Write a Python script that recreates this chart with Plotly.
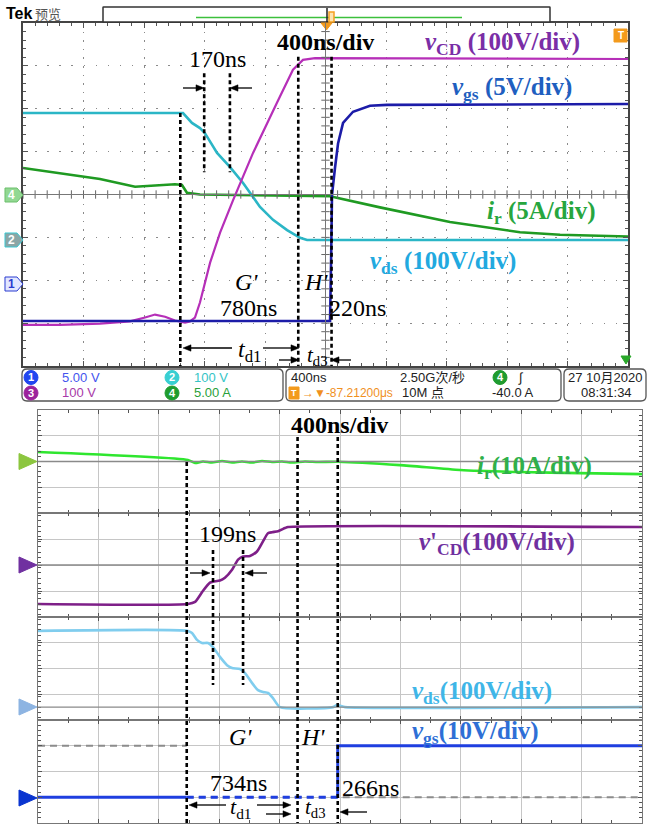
import plotly.graph_objects as go

W, H = 649, 825

# ---------------- oscilloscope capture (400 ns/div, time in ns) ----------------
# channel 3: v_CD, 100 V/div
scope_vcd_t = [0, 245, 509, 707, 807, 873, 939, 1005, 1071, 1104, 1137, 1170, 1237, 1303,
               1389, 1521, 1679, 1785, 1851, 1931, 4000]
scope_vcd_v = [-8, -8, -5, 0, 9, 16, 11, 2, -3, 0, 9, 44, 137, 207,
               283, 393, 510, 587, 610, 614, 612]
# channel 2: v_ds, 100 V/div
scope_vds_t = [0, 1058, 1117, 1170, 1203, 1283, 1369, 1455, 1521, 1567, 1653, 1746, 1832, 1878, 4000]
scope_vds_v = [296, 296, 273, 261, 249, 203, 170, 133, 100, 77, 47, 23, 5, 0, 0]
# channel 4: i_r, 5 A/div
scope_ir_t = [0, 245, 509, 741, 840, 1005, 1051, 1084, 1170, 2030, 2360, 2823, 3286, 3551, 4000]
scope_ir_a = [3.1, 2.5, 1.8, 0.9, 1.0, 1.2, 1.1, 0.2, 0.0, -0.2, -1.5, -3.2, -4.4, -4.7, -4.9]
# channel 1: v_gs, 5 V/div
scope_vgs_t = [0, 2030, 2037, 2043, 2063, 2083, 2116, 2182, 2294, 2407, 4000]
scope_vgs_v = [-4.3, -4.3, 2.8, 10.4, 13.6, 16.4, 18.8, 20.1, 20.8, 20.9, 21.0]

# volts (amps) per division and ground position in divisions from screen centre
scope_channels = {
    "vCD": dict(scale=100, ground=-2.96),
    "vds": dict(scale=100, ground=-1.06),
    "ir": dict(scale=5, ground=0.0),
    "vgs": dict(scale=5, ground=-2.09),
}

# measured intervals
scope_td1, scope_td3, scope_step = 780, 220, 170
scope_t_start = 1040
scope_step_start = 1198

# ---------------- simulation (400 ns/div) ----------------
sim_ir_t = [0, 993, 1040, 1093, 1152, 1219, 1285, 1351, 1417, 1484, 1550, 1616, 1682, 1768,
            1854, 1987, 2398, 2795, 3192, 3590, 4000]
sim_ir_a = [3.7, 0.6, -0.6, 0.0, -0.4, 0.2, -0.4, 0.0, -0.4, 0.2, -0.2, 0.0, -0.4, 0.0,
            -0.2, -0.1, -1.4, -3.3, -4.1, -4.5, -4.9]
sim_vcd_t = [0, 993, 1040, 1093, 1139, 1159, 1205, 1238, 1285, 1325, 1358, 1404, 1450, 1490,
             1523, 1550, 1590, 1636, 1656, 4000]
sim_vcd_v = [0, 0, 8, 51, 82, 86, 90, 101, 132, 171, 183, 185, 202, 241,
             272, 276, 280, 292, 296, 296]
sim_vds_t = [0, 993, 1020, 1053, 1086, 1126, 1159, 1205, 1252, 1285, 1338, 1371, 1417, 1457,
             1490, 1523, 1556, 1603, 1954, 1980, 2007, 2033, 4000]
sim_vds_v = [296, 296, 288, 261, 249, 249, 233, 195, 163, 152, 148, 132, 94, 66,
             59, 55, 35, 0, 0, 8, 4, 0, 0]
sim_vgs_low, sim_vgs_high = 0, 20
sim_td1, sim_td3, sim_step = 734, 266, 199
sim_t_start = 985
sim_step_start = 1159

SERIF = "Liberation Serif, Times New Roman, serif"
SANS = "Liberation Sans Narrow, Liberation Sans, Noto Sans CJK SC, sans-serif"


def px(x):
    return x / W


def py(y):
    return 1 - y / H


def to_div(values, ch):
    c = scope_channels[ch]
    return [v / c["scale"] + c["ground"] for v in values]


fig = go.Figure()

# ---------- scope traces ----------
fig.add_trace(go.Scatter(x=scope_ir_t, y=to_div(scope_ir_a, "ir"), mode="lines",
                         line=dict(color="#1f9a22", width=2.6), xaxis="x", yaxis="y"))
fig.add_trace(go.Scatter(x=scope_vds_t, y=to_div(scope_vds_v, "vds"), mode="lines",
                         line=dict(color="#2bb6c6", width=2.6), xaxis="x", yaxis="y"))
fig.add_trace(go.Scatter(x=scope_vcd_t, y=to_div(scope_vcd_v, "vCD"), mode="lines",
                         line=dict(color="#b62fb8", width=2.2), xaxis="x", yaxis="y"))
fig.add_trace(go.Scatter(x=scope_vgs_t, y=to_div(scope_vgs_v, "vgs"), mode="lines",
                         line=dict(color="#1c1ca8", width=2.6), xaxis="x", yaxis="y"))

# graticule centre-line ticks
tick_x = [i * 80 for i in range(51)]
tick_y = [-4 + i * 0.2 for i in range(41)]
fig.add_trace(go.Scatter(x=tick_x, y=[0] * len(tick_x), mode="markers",
                         marker=dict(symbol="line-ns", size=6, line=dict(color="#666", width=1)),
                         xaxis="x", yaxis="y", hoverinfo="skip"))
fig.add_trace(go.Scatter(x=[2000] * len(tick_y), y=tick_y, mode="markers",
                         marker=dict(symbol="line-ew", size=6, line=dict(color="#666", width=1)),
                         xaxis="x", yaxis="y", hoverinfo="skip"))

# ---------- simulation traces ----------
fig.add_trace(go.Scatter(x=sim_ir_t, y=sim_ir_a, mode="lines",
                         line=dict(color="#2fe62f", width=2.6, shape="spline", smoothing=0.6),
                         xaxis="x2", yaxis="y2"))
fig.add_trace(go.Scatter(x=sim_vcd_t, y=sim_vcd_v, mode="lines",
                         line=dict(color="#7e1f88", width=2.6, shape="spline", smoothing=0.6),
                         xaxis="x3", yaxis="y3"))
fig.add_trace(go.Scatter(x=sim_vds_t, y=sim_vds_v, mode="lines",
                         line=dict(color="#80cdee", width=2.6, shape="spline", smoothing=0.6),
                         xaxis="x4", yaxis="y4"))

t_end = sim_t_start + sim_td1 + sim_td3
# ideal gate references (grey dashed)
fig.add_trace(go.Scatter(x=[0, sim_t_start], y=[sim_vgs_high, sim_vgs_high], mode="lines",
                         line=dict(color="#8c8c8c", width=2, dash="7px,5px"), xaxis="x5", yaxis="y5"))
fig.add_trace(go.Scatter(x=[sim_t_start, 4000], y=[sim_vgs_low, sim_vgs_low], mode="lines",
                         line=dict(color="#8c8c8c", width=2, dash="7px,5px"), xaxis="x5", yaxis="y5"))
fig.add_trace(go.Scatter(x=[0, sim_t_start], y=[sim_vgs_low, sim_vgs_low], mode="lines",
                         line=dict(color="#1f3fe0", width=3), xaxis="x5", yaxis="y5"))
fig.add_trace(go.Scatter(x=[sim_t_start, t_end], y=[sim_vgs_low, sim_vgs_low], mode="lines",
                         line=dict(color="#1f3fe0", width=3, dash="7px,5px"), xaxis="x5", yaxis="y5"))
fig.add_trace(go.Scatter(x=[t_end, t_end, 4000], y=[sim_vgs_low, sim_vgs_high, sim_vgs_high],
                         mode="lines", line=dict(color="#1f3fe0", width=3), xaxis="x5", yaxis="y5"))

# ---------- axes ----------
scope_x = dict(domain=[px(23), px(628)], range=[0, 4000], tick0=0, dtick=400,
               showgrid=True, gridcolor="#8a8a8a", gridwidth=1, griddash="1.5px,7.1px",
               ticks="inside", ticklen=5, tickcolor="#555", showticklabels=False,
               showline=True, linecolor="#444", linewidth=1.5, mirror="allticks", zeroline=False,
               minor=dict(ticks="inside", ticklen=3, dtick=80, tickcolor="#555", showgrid=False),
               fixedrange=True)
scope_y = dict(domain=[py(366), py(23)], range=[-4, 4], tick0=0, dtick=1,
               showgrid=True, gridcolor="#8a8a8a", gridwidth=1, griddash="1.5px,10.6px",
               ticks="inside", ticklen=5, tickcolor="#555", showticklabels=False,
               showline=True, linecolor="#444", linewidth=1.5, mirror="allticks", zeroline=False,
               minor=dict(ticks="inside", ticklen=3, dtick=0.2, tickcolor="#555", showgrid=False),
               fixedrange=True)
layout_axes = {"xaxis": scope_x, "yaxis": scope_y}

panels = [  # (top px, bottom px, range, units per div)
    (410, 513, [-20, 20], 10),
    (513, 617, [-50, 350], 100),
    (617, 720, [-50, 350], 100),
    (720, 823, [-10, 30], 10),
]
for i, (top, bot, rng, per_div) in enumerate(panels, start=2):
    layout_axes[f"xaxis{i}"] = dict(
        domain=[px(38), px(642)], range=[0, 4000], tick0=0, dtick=400,
        showgrid=True, gridcolor="#c6c6c6", gridwidth=1.4,
        ticks="inside", ticklen=4, tickcolor="#555", showticklabels=False,
        showline=True, linecolor="#777", linewidth=1.1, mirror="allticks", zeroline=False,
        minor=dict(ticks="inside", ticklen=2.5, dtick=200, tickcolor="#555", showgrid=False),
        anchor=f"y{i}", fixedrange=True)
    layout_axes[f"yaxis{i}"] = dict(
        domain=[py(bot), py(top)], range=rng, tick0=rng[0], dtick=per_div,
        showgrid=True, gridcolor="#c6c6c6", gridwidth=1.4,
        ticks="inside", ticklen=4, tickcolor="#555", showticklabels=False,
        showline=True, linecolor="#777", linewidth=1.1, mirror="allticks", zeroline=False,
        minor=dict(ticks="inside", ticklen=2.5, dtick=per_div / 5, tickcolor="#555", showgrid=False),
        anchor=f"x{i}", fixedrange=True)

shapes = []
ann = []


def text(x, y, s, size=24, color="black", family=SERIF, anchor="center"):
    ann.append(dict(x=px(x), y=py(y), xref="paper", yref="paper", text=s, showarrow=False,
                    xanchor=anchor, yanchor="middle", font=dict(family=family, size=size, color=color)))


def poly(points, fill, line=None, width=1):
    d = "M " + " L ".join(f"{px(a):.5f},{py(b):.5f}" for a, b in points) + " Z"
    shapes.append(dict(type="path", xref="paper", yref="paper", path=d, fillcolor=fill,
                       line=dict(color=line or fill, width=width)))


def arrow(x_head, y, x_tail, head=8, half=3.2):
    sgn = 1 if x_head > x_tail else -1
    base = x_head - sgn * head
    shapes.append(dict(type="line", xref="paper", yref="paper", x0=px(x_tail), x1=px(base),
                       y0=py(y), y1=py(y), line=dict(color="black", width=1.3)))
    poly([(base, y - half), (x_head, y), (base, y + half)], "black", width=0.5)


def vdash(t, y0, y1, xref, ycoord="paper"):
    shapes.append(dict(type="line", xref=xref, yref=ycoord, x0=t, x1=t, y0=y0, y1=y1,
                       line=dict(color="black", width=2.6, dash="4px,3px")))


def roundrect(x0, y0, x1, y1, r, color="#555", width=1.3):
    pts = (f"M {px(x0 + r)},{py(y0)} L {px(x1 - r)},{py(y0)} Q {px(x1)},{py(y0)} {px(x1)},{py(y0 + r)} "
           f"L {px(x1)},{py(y1 - r)} Q {px(x1)},{py(y1)} {px(x1 - r)},{py(y1)} "
           f"L {px(x0 + r)},{py(y1)} Q {px(x0)},{py(y1)} {px(x0)},{py(y1 - r)} "
           f"L {px(x0)},{py(y0 + r)} Q {px(x0)},{py(y0)} {px(x0 + r)},{py(y0)} Z")
    shapes.append(dict(type="path", xref="paper", yref="paper", path=pts,
                       line=dict(color=color, width=width), fillcolor="white"))


def badge(cx, cy, label, fill, r=7, tcolor="white"):
    shapes.append(dict(type="circle", xref="paper", yref="paper", x0=px(cx - r), x1=px(cx + r),
                       y0=py(cy + r), y1=py(cy - r), fillcolor=fill, line=dict(color=fill, width=1)))
    text(cx, cy, f"<b>{label}</b>", 11, tcolor, "Liberation Sans, sans-serif")


# ---------- scope header ----------
text(4, 14, "<b>Tek</b>", 16, "black", "Liberation Sans, sans-serif", "left")
text(33, 14, "预览", 13, "#555", "Noto Sans CJK SC, sans-serif", "left")
roundrect(103, 7, 550, 22, 0.5, "#333", 1.5)
shapes.append(dict(type="line", xref="paper", yref="paper", x0=px(196), x1=px(462), y0=py(17.5), y1=py(17.5),
                   line=dict(color="#3cc03c", width=1.5)))
shapes.append(dict(type="line", xref="paper", yref="paper", x0=px(327), x1=px(327), y0=py(8), y1=py(24),
                   line=dict(color="#222", width=1.5)))
shapes.append(dict(type="rect", xref="paper", yref="paper", x0=px(329), x1=px(334), y0=py(22), y1=py(12),
                   line=dict(color="#f5a020", width=1.5), fillcolor="#fde3b0"))
poly([(321, 23), (332, 23), (326.5, 30)], "#f39a1c")
# trigger level marker
shapes.append(dict(type="rect", xref="paper", yref="paper", x0=px(614), x1=px(627), y0=py(42), y1=py(29),
                   line=dict(color="#f39a1c", width=1), fillcolor="#f39a1c"))
text(620.5, 35.5, "<b>T</b>", 10, "white", "Liberation Sans, sans-serif")
poly([(621, 356), (631, 356), (626, 364)], "#2aa82a")

# channel ground markers
poly([(5, 188), (17, 188), (23, 195), (17, 202), (5, 202)], "#92d892", "#6cbf6c")
text(11, 195, "<b>4</b>", 12, "white", "Liberation Sans, sans-serif")
poly([(5, 233), (17, 233), (23, 240), (17, 247), (5, 247)], "#8aa6a6", "#3cc8d2")
text(11, 240, "<b>2</b>", 12, "white", "Liberation Sans, sans-serif")
poly([(5, 277), (17, 277), (23, 284), (17, 291), (5, 291)], "#e2e6ff", "#2a3cd0")
text(11, 284, "<b>1</b>", 12, "#2a3cd0", "Liberation Sans, sans-serif")

# centre cross lines of the graticule
shapes.append(dict(type="line", xref="x", yref="y", x0=0, x1=4000, y0=0, y1=0,
                   line=dict(color="#777", width=1)))
shapes.append(dict(type="line", xref="x", yref="y", x0=2000, x1=2000, y0=-4, y1=4,
                   line=dict(color="#777", width=1)))

# ---------- scope annotations ----------
t_H = scope_t_start + scope_td1
t_E = t_H + scope_td3
vdash(scope_t_start, to_div([scope_vds_v[0]], "vds")[0], -4, "x", "y")
vdash(t_H, to_div([scope_vcd_v[-1]], "vCD")[0] + 0.05, -4, "x", "y")
vdash(t_E, to_div([scope_vcd_v[-1]], "vCD")[0] + 0.05, -4, "x", "y")
vdash(scope_step_start, 2.83, 0.52, "x", "y")
vdash(scope_step_start + scope_step, 2.83, 0.52, "x", "y")

text(325, 42, "<b>400ns/div</b>", 24)
text(423, 43, "<b><i>v</i><sub>CD</sub> (100V/div)</b>", 25, "#7a2ea6", anchor="left")
text(450, 88, "<b><i>v</i><sub>gs</sub> (5V/div)</b>", 25, "#1f5fc0", anchor="left")
text(485, 212, "<b><i>i</i><sub>r</sub> (5A/div)</b>", 25, "#27a63f", anchor="left")
text(368, 262, "<b><i>v</i><sub>ds</sub> (100V/div)</b>", 25, "#22a9df", anchor="left")
text(217, 59, f"{scope_step}ns", 24)
text(246, 282, "<i>G'</i>", 24)
text(316, 282, "<i>H'</i>", 24)
text(248, 308, f"{scope_td1}ns", 24)
text(327, 308, f"{scope_td3}ns", 24, anchor="left")
text(249, 351, "<i>t</i><sub>d1</sub>", 24)
text(317, 356, "<i>t</i><sub>d3</sub>", 21)
arrow(204, 88, 183)
arrow(230, 88, 252)
arrow(183, 348, 232)
arrow(299, 348, 263)
arrow(299, 360, 279)
arrow(331, 360, 351)

# ---------- scope status bar ----------
roundrect(22, 369, 283, 401, 5)
roundrect(286, 369, 561, 401, 5)
roundrect(564, 369, 646, 401, 5)
badge(31, 377.5, "1", "#2146f0")
text(60, 377.5, "5.00 V", 13, "#4455ee", SANS, "left")
badge(172, 377.5, "2", "#38cfd2")
text(192, 377.5, "100 V", 13, "#35c4c6", SANS, "left")
badge(31, 393, "3", "#9c239c")
text(60, 393, "100 V", 13, "#a83aa8", SANS, "left")
badge(172, 393, "4", "#1f9c2f")
text(192, 393, "5.00 A", 13, "#2a9f3a", SANS, "left")
text(289, 377.5, "400ns", 13, "#222", SANS, "left")
text(398, 377.5, "2.50G次/秒", 13, "#222", SANS, "left")
badge(500, 377.5, "4", "#1f9c2f")
text(516, 377.5, "∫", 13, "#222", SANS, "left")
shapes.append(dict(type="rect", xref="paper", yref="paper", x0=px(289), x1=px(299), y0=py(399), y1=py(387),
                   line=dict(color="#f39a1c", width=1), fillcolor="#f39a1c"))
text(294, 393, "<b>T</b>", 9, "white", "Liberation Sans, sans-serif")
text(300, 393, "→▼-87.21200μs", 12, "#f0901e", SANS, "left")
text(400, 393, "10M 点", 13, "#222", SANS, "left")
text(490, 393, "-40.0 A", 13, "#222", SANS, "left")
text(644, 377.5, "27 10月2020", 13, "#222", SANS, "right")
text(606, 393, "08:31:34", 13, "#222", SANS)

# ---------- simulation annotations ----------
shapes.append(dict(type="line", xref="x2", yref="y2", x0=0, x1=4000, y0=0, y1=0,
                   line=dict(color="#8a8a8a", width=1.4)))
shapes.append(dict(type="line", xref="x3", yref="y3", x0=0, x1=4000, y0=150, y1=150,
                   line=dict(color="#8a8a8a", width=1.4)))
shapes.append(dict(type="line", xref="x4", yref="y4", x0=0, x1=4000, y0=0, y1=0,
                   line=dict(color="#8a8a8a", width=1.4)))

poly([(19, 453.5), (37, 461.5), (19, 469.5)], "#8cc63f")
poly([(19, 557), (37, 565), (19, 573)], "#7030a0")
poly([(19, 699), (37, 707), (19, 715)], "#8db4e2")
poly([(19, 790), (37, 798), (19, 806)], "#0a35d0")

sH = sim_t_start + sim_td1
vdash(sim_t_start, py(462), py(823), "x2")
vdash(sH, py(437), py(823), "x2")
vdash(t_end, py(437), py(823), "x2")
vdash(sim_step_start, py(550), py(685), "x2")
vdash(sim_step_start + sim_step, py(550), py(685), "x2")

text(339, 425, "<b>400ns/div</b>", 24)
text(475, 467, "<b><i>i</i><sub>r</sub>(10A/div)</b>", 25, "#2fb04a", anchor="left")
text(227, 534, f"{sim_step}ns", 24)
text(417, 543, "<b><i>v</i>'<sub>CD</sub>(100V/div)</b>", 25, "#7030a0", anchor="left")
text(410, 692, "<b><i>v</i><sub>ds</sub>(100V/div)</b>", 25, "#3fb6e8", anchor="left")
text(410, 732, "<b><i>v</i><sub>gs</sub>(10V/div)</b>", 25, "#2e6fd6", anchor="left")
text(240, 737, "<i>G'</i>", 24)
text(313, 737, "<i>H'</i>", 24)
text(238, 783, f"{sim_td1}ns", 24)
text(340, 788, f"{sim_td3}ns", 24, anchor="left")
text(241, 808, "<i>t</i><sub>d1</sub>", 22)
text(315, 808, "<i>t</i><sub>d3</sub>", 21)
arrow(210, 573, 190)
arrow(245, 573, 267)
arrow(189, 805, 226)
arrow(291, 805, 257)
arrow(291, 814, 266)
arrow(340, 812, 367)

fig.update_layout(
    width=W, height=H, autosize=False,
    margin=dict(l=0, r=0, t=0, b=0),
    paper_bgcolor="white", plot_bgcolor="white",
    showlegend=False, shapes=shapes, annotations=ann,
    **layout_axes,
)

fig.write_html("out.html", config={"displayModeBar": False})
